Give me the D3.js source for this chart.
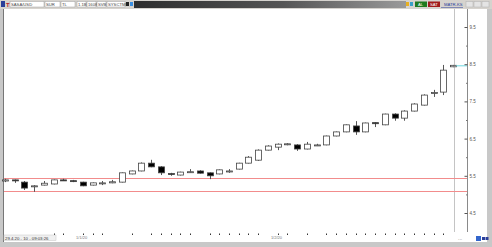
<!DOCTYPE html>
<html>
<head>
<meta charset="utf-8">
<script src="https://cdn.jsdelivr.net/npm/d3@7"></script>
<style>
  body { margin: 0; background: #ffffff; }
  svg { display: block; }
</style>
</head>
<body>
<div id="chart"></div>
<script>

// candle data (open, high, low, close), one per session
const opens  = [5.36,5.39,5.33,5.22,5.25,5.28,5.39,5.37,5.33,5.25,5.30,5.31,5.33,5.55,5.63,5.84,5.74,5.56,5.52,5.59,5.63,5.58,5.55,5.62,5.68,5.84,5.92,6.19,6.27,6.35,6.33,6.22,6.32,6.33,6.57,6.68,6.84,6.68,6.93,6.87,7.16,7.05,7.24,7.40,7.72,7.75,8.43];
const highs  = [5.42,5.40,5.36,5.25,5.36,5.40,5.42,5.39,5.34,5.32,5.36,5.39,5.59,5.64,5.86,5.93,5.76,5.58,5.61,5.68,5.65,5.59,5.67,5.68,5.85,6.03,6.21,6.32,6.37,6.38,6.35,6.41,6.36,6.58,6.69,6.88,6.97,6.93,6.94,7.17,7.18,7.26,7.45,7.69,7.81,8.48,8.48];
const lows   = [5.33,5.31,5.12,5.07,5.24,5.27,5.36,5.33,5.22,5.24,5.25,5.30,5.32,5.54,5.62,5.73,5.52,5.50,5.51,5.58,5.56,5.41,5.54,5.58,5.67,5.83,5.90,6.18,6.19,6.32,6.17,6.21,6.30,6.32,6.56,6.67,6.60,6.67,6.81,6.86,6.98,6.98,7.23,7.39,7.62,7.67,8.42];
const closes = [5.39,5.37,5.17,5.23,5.30,5.39,5.38,5.35,5.23,5.31,5.31,5.34,5.58,5.63,5.84,5.74,5.58,5.55,5.60,5.61,5.57,5.50,5.66,5.63,5.84,6.00,6.19,6.30,6.35,6.36,6.22,6.35,6.33,6.57,6.68,6.87,6.68,6.92,6.90,7.16,7.05,7.24,7.43,7.67,7.74,8.34,8.47];

// price axis
const priceTicks = [4.5, 5.5, 6.5, 7.5, 8.5, 9.5];
const priceMinor = [5, 6, 7, 8, 9];
const priceLabels = ["4.5", "5.5", "6.5", "7.5", "8.5", "9.5"];

// horizontal support lines
const levels = [5.45, 5.10];

// session index of the small date dots along the bottom
const dayTicks = [5,6,8,9,10,13,15,16,17,18,19,21,22,23,24,25,26,28,29,31,33,34,35,36,37,38,39,40,41,42,43,44,45];
const dateLabels = [{i: 7.3, t: "1/1/20"}, {i: 27.3, t: "1/2/20"}];

const W = 492, H = 247;
const font = "Liberation Sans, Arial, sans-serif";

const svg = d3.select("#chart").append("svg")
  .attr("width", W)
  .attr("height", H);

// window frame
svg.append("rect").attr("x", 0).attr("y", 0).attr("width", W).attr("height", H).attr("fill", "#c8c8c8");
svg.append("rect").attr("x", 4).attr("y", 9).attr("width", 483).attr("height", 233).attr("fill", "#ffffff");
svg.append("line").attr("x1", 3.5).attr("x2", 3.5).attr("y1", 9).attr("y2", 242).attr("stroke", "#777");

// ---- top toolbar
const toolbar = svg.append("g");
toolbar.append("rect").attr("x", 0).attr("y", 0).attr("width", W).attr("height", 9).attr("fill", "#d6d3ce");
toolbar.append("rect").attr("x", 1).attr("y", 1).attr("width", 4).attr("height", 6).attr("fill", "#2a3f9a");
toolbar.append("text").attr("x", 6).attr("y", 6.5).text("T").attr("font-size", 6).attr("font-weight", "bold").attr("fill", "#c0282d").attr("font-family", font);

const fields = [
  {x: 10, w: 34, t: "SASA/USD"},
  {x: 45, w: 15, t: "SUR"},
  {x: 61, w: 14, t: "TL"},
  {x: 77, w: 9, t: "1.1B"},
  {x: 87, w: 9, t: "1608"},
  {x: 97, w: 9, t: "SVB"},
  {x: 107, w: 18, t: "SYSCTMP"}
];
fields.forEach(function (f) {
  toolbar.append("rect").attr("x", f.x).attr("y", 1.5).attr("width", f.w).attr("height", 5.5)
    .attr("fill", "#ffffff").attr("stroke", "#a0a0a0").attr("stroke-width", 0.5);
  toolbar.append("text").attr("x", f.x + 1).attr("y", 6).text(f.t)
    .attr("font-size", 4.2).attr("fill", "#444").attr("font-family", font);
});
toolbar.append("rect").attr("x", 126).attr("y", 2).attr("width", 3).attr("height", 4).attr("fill", "#222");
toolbar.append("rect").attr("x", 130).attr("y", 2).attr("width", 3).attr("height", 4).attr("fill", "#3a8ee0");

const grad = svg.append("defs").append("linearGradient").attr("id", "bar");
grad.append("stop").attr("offset", "0%").attr("stop-color", "#2e2e2e");
grad.append("stop").attr("offset", "55%").attr("stop-color", "#555");
grad.append("stop").attr("offset", "100%").attr("stop-color", "#9a9a9a");
toolbar.append("rect").attr("x", 134).attr("y", 1).attr("width", 272).attr("height", 7).attr("fill", "url(#bar)");

toolbar.append("rect").attr("x", 406).attr("y", 2).attr("width", 3).attr("height", 4).attr("fill", "#e8b020");
toolbar.append("rect").attr("x", 410).attr("y", 2).attr("width", 3).attr("height", 4).attr("fill", "#38a0c8");
toolbar.append("rect").attr("x", 415).attr("y", 1.5).attr("width", 12).attr("height", 5.5).attr("fill", "#1f7a1f");
toolbar.append("text").attr("x", 418).attr("y", 6).text("AL").attr("font-size", 4.2).attr("fill", "#fff").attr("font-family", font);
toolbar.append("rect").attr("x", 428).attr("y", 1.5).attr("width", 12).attr("height", 5.5).attr("fill", "#a01c1c");
toolbar.append("text").attr("x", 430).attr("y", 6).text("SAT").attr("font-size", 4.2).attr("fill", "#fff").attr("font-family", font);
toolbar.append("text").attr("x", 444).attr("y", 6).text("MATR-KS").attr("font-size", 4.2).attr("fill", "#2a3f9a").attr("font-family", font);
toolbar.append("line").attr("x1", 441).attr("x2", 463).attr("y1", 7.5).attr("y2", 7.5).attr("stroke", "#2a3f9a").attr("stroke-width", 0.5);
[466, 474, 482].forEach(function (bx) {
  toolbar.append("rect").attr("x", bx).attr("y", 1.5).attr("width", 7).attr("height", 5.5)
    .attr("fill", "#e4e4e4").attr("stroke", "#b0b0b0").attr("stroke-width", 0.5);
});

// ---- scales
const x = d3.scaleLinear().domain([0, opens.length - 1]).range([5, 453]);
const y = d3.scaleLinear().domain([4.5, 9.5]).range([213, 27]);

const axisX = 467;

// vertical separators
svg.append("line").attr("x1", 454.5).attr("x2", 454.5).attr("y1", 9).attr("y2", 232).attr("stroke", "#c4c4c4");
svg.append("line").attr("x1", axisX + 0.5).attr("x2", axisX + 0.5).attr("y1", 9).attr("y2", 232).attr("stroke", "#8a8a8a");

// support lines
svg.selectAll("line.level").data(levels).enter().append("line")
  .attr("class", "level")
  .attr("x1", 4).attr("x2", axisX)
  .attr("y1", function (d) { return Math.round(y(d)) + 0.5; })
  .attr("y2", function (d) { return Math.round(y(d)) + 0.5; })
  .style("stroke", "#f28c8c").style("stroke-width", 1);

// ---- candles
const candles = d3.range(opens.length).map(function (i) {
  return {i: i, o: opens[i], h: highs[i], l: lows[i], c: closes[i]};
});
const bw = 6;

const cg = svg.append("g");
cg.selectAll("line.wick").data(candles).enter().append("line")
  .attr("class", "wick")
  .attr("x1", function (d) { return Math.round(x(d.i)) + 0.5; })
  .attr("x2", function (d) { return Math.round(x(d.i)) + 0.5; })
  .attr("y1", function (d) { return y(d.h); })
  .attr("y2", function (d) { return y(d.l); })
  .attr("stroke", "#444").attr("stroke-width", 0.9);

cg.selectAll("rect.body").data(candles).enter().append("rect")
  .attr("class", "body")
  .attr("x", function (d) { return Math.round(x(d.i)) - bw / 2 + 0.5; })
  .attr("y", function (d) { return y(Math.max(d.o, d.c)); })
  .attr("width", bw)
  .attr("height", function (d) { return Math.max(1, Math.abs(y(d.o) - y(d.c))); })
  .attr("fill", function (d) { return d.c >= d.o ? "#ffffff" : "#000000"; })
  .attr("stroke", "#444").attr("stroke-width", 0.8);

// last price marker
const last = closes[closes.length - 1];
svg.append("line").attr("x1", 456).attr("x2", axisX).attr("y1", y(last) + 0.5).attr("y2", y(last) + 0.5)
  .attr("stroke", "#6fd8e0").attr("stroke-width", 1);

// ---- price axis on the right
const axis = d3.axisRight(y)
  .tickValues(priceTicks)
  .tickSize(-3)
  .tickPadding(2)
  .tickFormat(function (d, i) { return priceLabels[i]; });

const ag = svg.append("g").attr("transform", "translate(" + (axisX + 0.5) + ",0)").call(axis);
ag.select(".domain").remove();
ag.selectAll(".tick line").attr("stroke", "#555");
ag.selectAll(".tick text").attr("font-size", 4.5).attr("font-family", font).attr("fill", "#555");

const am = svg.append("g").attr("transform", "translate(" + (axisX + 0.5) + ",0)")
  .call(d3.axisRight(y).tickValues(priceMinor).tickSize(-1.5).tickFormat(""));
am.select(".domain").remove();
am.selectAll(".tick line").attr("stroke", "#777");

// ---- bottom time strip
svg.selectAll("rect.day").data(dayTicks).enter().append("rect")
  .attr("class", "day")
  .attr("x", function (d) { return Math.round(x(d)); })
  .attr("y", 233.5).attr("width", 1).attr("height", 1.5).attr("fill", "#333");

svg.selectAll("text.date").data(dateLabels).enter().append("text")
  .attr("class", "date")
  .attr("x", function (d) { return x(d.i); })
  .attr("y", 239)
  .text(function (d) { return d.t; })
  .attr("font-size", 4).attr("font-family", font).attr("fill", "#777");

svg.append("rect").attr("x", 4).attr("y", 235).attr("width", 52).attr("height", 5.5)
  .attr("fill", "#f0f0f0").attr("stroke", "#c8c8c8").attr("stroke-width", 0.5);
svg.append("text").attr("x", 5).attr("y", 239.5).text("29.4.20 - 10 - 09:03:26")
  .attr("font-size", 4.3).attr("font-family", font).attr("fill", "#333");

svg.append("text").attr("x", 458).attr("y", 240).text("...")
  .attr("font-size", 5).attr("font-family", font).attr("fill", "#777");
svg.append("rect").attr("x", 476).attr("y", 236).attr("width", 5).attr("height", 5).attr("fill", "#3366cc");
svg.append("rect").attr("x", 482).attr("y", 237).attr("width", 3).attr("height", 3).attr("fill", "#2a3f9a");
svg.append("rect").attr("x", 485.5).attr("y", 237).attr("width", 3).attr("height", 3).attr("fill", "#2a3f9a");

</script>
</body>
</html>
